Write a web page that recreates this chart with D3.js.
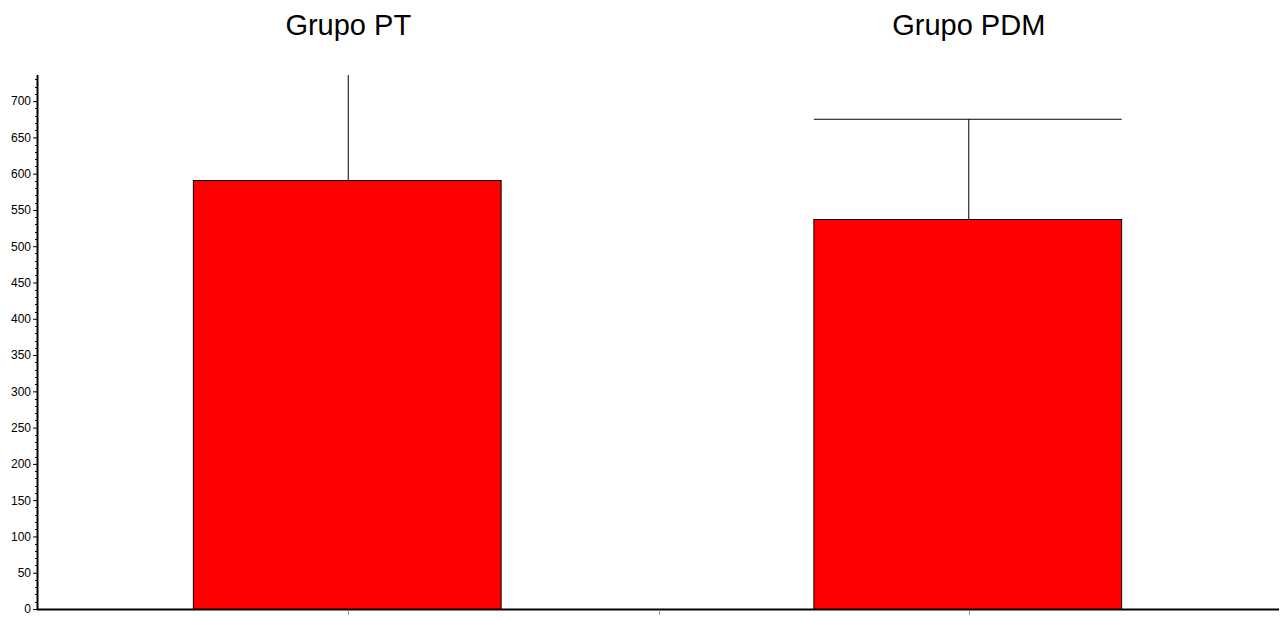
<!DOCTYPE html>
<html lang="en">
<head>
<meta charset="utf-8">
<title>Grupo PT vs Grupo PDM</title>
<script src="https://cdn.jsdelivr.net/npm/d3@7"></script>
<style>
  body { margin: 0; background: #fff; }
  text { font-family: Arial, "Liberation Sans", sans-serif; }
</style>
</head>
<body>
<svg width="1280" height="617"></svg>
<script>
const groups = ['Grupo PT', 'Grupo PDM'];
const means = [591, 537];
const errors = [160, 138];
const yTicks = d3.range(0, 701, 50);

const svg = d3.select('svg');
const margin = { left: 38, right: 1, top: 75, bottom: 8 };
const width = +svg.attr('width'), height = +svg.attr('height');
const innerWidth = width - margin.left - margin.right;
const innerHeight = height - margin.top - margin.bottom;

const x = d3.scaleBand().domain(groups).range([0, innerWidth]).paddingInner(0).paddingOuter(0);
const y = d3.scaleLinear().domain([0, 736]).range([innerHeight, 0]);

const g = svg.append('g').attr('transform', `translate(${margin.left},${margin.top})`);

svg.append('defs').append('clipPath').attr('id', 'plot')
  .append('rect').attr('width', innerWidth).attr('height', innerHeight);

// column titles
svg.selectAll('.title').data(groups).enter().append('text')
  .attr('x', d => margin.left + x(d) + x.bandwidth() / 2)
  .attr('y', 35)
  .attr('text-anchor', 'middle')
  .attr('font-size', 29)
  .attr('fill', '#000')
  .text(d => d);

const plot = g.append('g').attr('clip-path', 'url(#plot)');
const barW = x.bandwidth() * 0.496;
const cx = d => x(d) + x.bandwidth() / 2;

// error bars
plot.selectAll('.err').data(groups).enter().append('line')
  .attr('x1', d => cx(d)).attr('x2', d => cx(d))
  .attr('y1', (d, i) => y(means[i])).attr('y2', (d, i) => y(means[i] + errors[i]))
  .attr('stroke', '#000').attr('stroke-width', 1);
plot.selectAll('.cap').data(groups).enter().append('line')
  .attr('x1', d => cx(d) - barW / 2 - 1).attr('x2', d => cx(d) + barW / 2 - 1)
  .attr('y1', (d, i) => y(means[i] + errors[i])).attr('y2', (d, i) => y(means[i] + errors[i]))
  .attr('stroke', '#000').attr('stroke-width', 1);

// bars
plot.selectAll('.bar').data(groups).enter().append('rect')
  .attr('x', d => cx(d) - barW / 2 - 1)
  .attr('y', (d, i) => Math.round(y(means[i])) + 0.5)
  .attr('width', barW)
  .attr('height', (d, i) => innerHeight - Math.round(y(means[i])))
  .attr('fill', '#ff0000')
  .attr('stroke', '#000').attr('stroke-width', 1);

// y axis
const yAxisG = g.append('g');
yAxisG.call(d3.axisLeft(y).tickValues(yTicks).tickSize(4).tickPadding(2).tickFormat(d3.format('d')));
yAxisG.select('.domain').remove();
yAxisG.selectAll('.tick line').attr('stroke', '#000').attr('transform', 'translate(-1,0)');
yAxisG.selectAll('.tick text').attr('font-size', 12).attr('fill', '#000').attr('x', -7);
// minor ticks
g.append('g').selectAll('line').data(d3.range(0, 736, 10).filter(v => v % 50 !== 0)).enter().append('line')
  .attr('x1', -3).attr('x2', -1)
  .attr('y1', d => Math.round(y(d)) + 0.5).attr('y2', d => Math.round(y(d)) + 0.5)
  .attr('stroke', '#000');
g.append('line').attr('x1', -0.5).attr('x2', -0.5).attr('y1', 0).attr('y2', innerHeight + 1)
  .attr('stroke', '#000').attr('stroke-width', 2);

// x axis
const xAxisG = g.append('g').attr('transform', `translate(0,${innerHeight})`);
xAxisG.append('line').attr('x1', -1).attr('x2', innerWidth).attr('y1', 0.5).attr('y2', 0.5)
  .attr('stroke', '#000').attr('stroke-width', 2);
const xTickPos = [cx(groups[0]), x(groups[1]), cx(groups[1])];
xAxisG.selectAll('.xt').data(xTickPos).enter().append('line')
  .attr('x1', d => Math.round(d) + 0.5).attr('x2', d => Math.round(d) + 0.5)
  .attr('y1', 1.5).attr('y2', 6)
  .attr('stroke', '#999');
</script>
</body>
</html>
